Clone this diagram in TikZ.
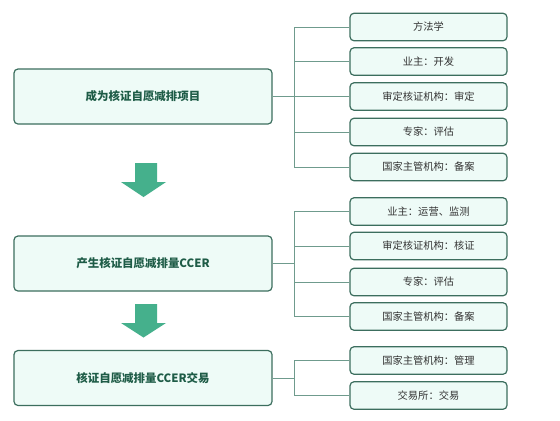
\documentclass[tikz,border=0pt]{standalone}
\usepackage{fontspec}
\newfontfamily\cjk{Noto Sans CJK SC}
\definecolor{bordc}{HTML}{3C6E5E}
\definecolor{fillc}{HTML}{EEFBF7}
\definecolor{linec}{HTML}{6F9B8D}
\definecolor{maintext}{HTML}{1E5C47}
\definecolor{subtext}{HTML}{333333}
\definecolor{arrowc}{HTML}{45B08C}
\tikzset{
  mainbox/.style={draw=bordc,fill=fillc,line width=1.2pt,rounded corners=4bp,minimum width=258bp,minimum height=55bp,inner sep=0pt,font=\cjk\bfseries\fontsize{11.5}{13}\selectfont,text=maintext},
  subbox/.style={draw=bordc,fill=fillc,line width=1.2pt,rounded corners=4bp,minimum width=157bp,minimum height=27.5bp,inner sep=0pt,font=\cjk\fontsize{10.3}{12}\selectfont,text=subtext},
  conn/.style={draw=linec,line width=0.8pt},
  bigarrow/.style={fill=arrowc,draw=none}
}
\begin{document}
\begin{tikzpicture}[x=1bp,y=-1bp]
\useasboundingbox[fill=white] (0,0) rectangle (560,420);
% group 1
\node[mainbox] (m1) at (143,96.5) {成为核证自愿减排项目};
\node[subbox] (a1) at (428.5,27) {方法学};
\node[subbox] (a2) at (428.5,61.5) {业主：开发};
\node[subbox] (a3) at (428.5,96.5) {审定核证机构：审定};
\node[subbox] (a4) at (428.5,132) {专家：评估};
\node[subbox] (a5) at (428.5,167) {国家主管机构：备案};
\coordinate (t1) at (294,96.5);
\draw[conn] (m1.east) -- (t1);
\foreach \n in {a1,a2,a3,a4,a5} \draw[conn] (t1 |- \n.west) -- (\n.west);
\draw[conn] (t1 |- a1.west) -- (t1 |- a5.west);
% arrow 1
\fill[bigarrow] (135,163) -- (157,163) -- (157,182) -- (166,182) -- (143.5,197) -- (121,182) -- (135,182) -- cycle;
% group 2
\node[mainbox] (m2) at (143,263.5) {产生核证自愿减排量CCER};
\node[subbox] (b1) at (428.5,211.5) {业主：运营、监测};
\node[subbox] (b2) at (428.5,246) {审定核证机构：核证};
\node[subbox] (b3) at (428.5,282) {专家：评估};
\node[subbox] (b4) at (428.5,316.5) {国家主管机构：备案};
\coordinate (t2) at (294,263.5);
\draw[conn] (m2.east) -- (t2);
\foreach \n in {b1,b2,b3,b4} \draw[conn] (t2 |- \n.west) -- (\n.west);
\draw[conn] (t2 |- b1.west) -- (t2 |- b4.west);
% arrow 2
\fill[bigarrow] (135,304) -- (157,304) -- (157,323) -- (166,323) -- (143.5,337.5) -- (121,323) -- (135,323) -- cycle;
% group 3
\node[mainbox] (m3) at (143,378) {核证自愿减排量CCER交易};
\node[subbox] (c1) at (428.5,360.5) {国家主管机构：管理};
\node[subbox] (c2) at (428.5,395.5) {交易所：交易};
\coordinate (t3) at (294,378);
\draw[conn] (m3.east) -- (t3);
\foreach \n in {c1,c2} \draw[conn] (t3 |- \n.west) -- (\n.west);
\draw[conn] (t3 |- c1.west) -- (t3 |- c2.west);
\end{tikzpicture}
\end{document}
